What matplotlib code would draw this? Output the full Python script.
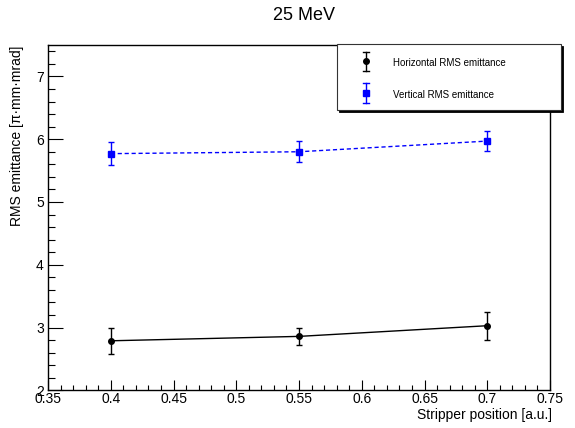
import matplotlib
matplotlib.use("Agg")
import matplotlib.pyplot as plt
from matplotlib.patches import Rectangle
from matplotlib.lines import Line2D
from matplotlib.ticker import MultipleLocator, FuncFormatter

plt.rcParams['font.family'] = ['Liberation Sans', 'DejaVu Sans']

positions = [0.4, 0.55, 0.7]
horiz = [2.79, 2.86, 3.03]
horiz_err = [0.21, 0.13, 0.22]
vert = [5.77, 5.80, 5.97]
vert_err = [0.18, 0.17, 0.16]
title = "25 MeV"
xlabel = "Stripper position [a.u.]"
ylabel = "RMS emittance [π·mm·mrad]"
leg_labels = ["Horizontal RMS emittance", "Vertical RMS emittance"]

W, H = 575, 428
fig = plt.figure(figsize=(W/100, H/100), dpi=100)
ax = fig.add_axes([48/W, 1-390.4/H, (550-48)/W, (390.4-45)/H])

ax.errorbar(positions, horiz, yerr=horiz_err, fmt='o', color='black', ms=4,
            capsize=2, elinewidth=1, capthick=1, ls='-', lw=1)
ax.errorbar(positions, vert, yerr=vert_err, fmt='s', color='blue', ms=4,
            capsize=2, elinewidth=1, capthick=1, ls=(0, (3, 2)), lw=1)

ax.set_xlim(0.35, 0.75)
ax.set_ylim(2, 7.5)
ax.xaxis.set_major_locator(MultipleLocator(0.05))
ax.xaxis.set_minor_locator(MultipleLocator(0.01))
ax.yaxis.set_major_locator(MultipleLocator(1))
ax.yaxis.set_minor_locator(MultipleLocator(0.2))
ax.xaxis.set_major_formatter(FuncFormatter(lambda v, p: ('%.2f' % v).rstrip('0').rstrip('.')))
ax.tick_params(axis='x', which='major', direction='in', length=7.2, width=0.8, labelsize=10, pad=1.5)
ax.tick_params(axis='x', which='minor', direction='in', length=3.6, width=0.8)
ax.tick_params(axis='y', which='major', direction='in', length=10.5, width=0.8, labelsize=10, pad=3)
ax.tick_params(axis='y', which='minor', direction='in', length=5.2, width=0.8)
for s in ax.spines.values():
    s.set_linewidth(1.0)

fig.text(304/W, 1-16/H, title, ha='center', va='center', fontsize=13)
fig.text(552/W, 1-415/H, xlabel, ha='right', va='center', fontsize=10)
fig.text(17/W, 1-46/H, ylabel, ha='center', va='top', rotation=90, fontsize=10)

# legend box with shadow
x0, x1, yt, yb = 337, 561, 44, 110
fig.add_artist(Rectangle(((x0+2)/W, 1-(yb+2)/H), (x1-x0)/W, (yb-yt)/H, transform=fig.transFigure,
                         facecolor='black', edgecolor='black', lw=0.6))
fig.add_artist(Rectangle((x0/W, 1-yb/H), (x1-x0)/W, (yb-yt)/H, transform=fig.transFigure,
                         facecolor='white', edgecolor='#333333', lw=0.8))
entries = [(60.7, 51.7, 71.0, 'black', 'o'), (93.3, 83.3, 103.3, 'blue', 's')]
for (ym, ye1, ye2, c, m), lab in zip(entries, leg_labels):
    mx = 366
    fig.add_artist(Line2D([mx/W, mx/W], [1-ye1/H, 1-ye2/H], transform=fig.transFigure, color=c, lw=1))
    for ye in (ye1, ye2):
        fig.add_artist(Line2D([(mx-3)/W, (mx+3)/W], [1-ye/H, 1-ye/H], transform=fig.transFigure, color=c, lw=1))
    fig.add_artist(Line2D([mx/W], [1-ym/H], transform=fig.transFigure, color=c, marker=m, ms=4, ls='none'))
    fig.text(393/W, 1-(ym+2)/H, lab, ha='left', va='center', fontsize=7)

fig.savefig("out.png", dpi=100)
